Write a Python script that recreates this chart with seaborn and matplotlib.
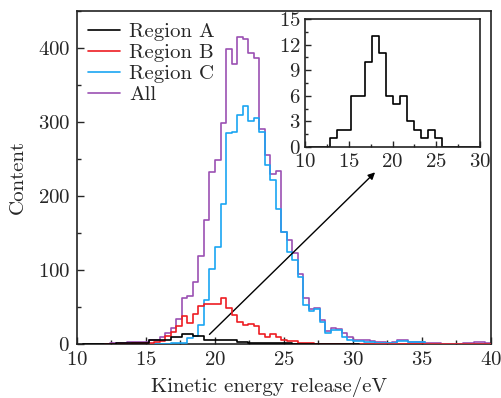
import numpy as np
import pandas as pd
import matplotlib.pyplot as plt
import seaborn as sns
from matplotlib.ticker import MultipleLocator

# main histograms: 0.4 eV bins, first bin starts at 12.0 eV
bin_start = 12.0
bin_width = 0.4
all_counts = [0, 2, 2, 2, 3, 3, 3, 3, 5, 5,
              9, 15, 22, 34, 62, 65, 84, 119, 167, 233,
              249, 299, 399, 379, 415, 412, 393, 386, 291, 255,
              230, 234, 152, 141, 123, 95, 62, 47, 48, 32,
              17, 21, 20, 15, 9, 6, 5, 5, 4, 3,
              3, 2, 3, 6, 6, 3, 3, 3, 2, 2,
              1, 0, 0, 0, 0, 1, 2, 3, 3, 2]
region_c = [0, 0, 0, 0, 0, 0, 0, 0, 0, 0,
            0, 0, 1, 1, 2, 8, 11, 26, 60, 101,
            131, 189, 285, 287, 310, 321, 301, 306, 287, 242,
            221, 183, 152, 125, 113, 91, 53, 44, 47, 30,
            15, 19, 19, 10, 6, 4, 4, 3, 3, 2,
            2, 2, 1, 4, 4, 3, 3, 3, 0, 0,
            0, 0, 0, 0, 0, 0, 0, 0, 0, 0]
region_b = [0, 0, 0, 0, 0, 1, 1, 1, 2, 3,
            4, 11, 16, 25, 38, 28, 41, 52, 54, 54,
            54, 62, 48, 39, 30, 26, 27, 24, 14, 10,
            14, 9, 5, 4, 4, 2, 1, 1, 0, 0,
            0, 0, 0, 0, 0, 0, 0, 0, 0, 0,
            0, 0, 0, 0, 0, 0, 0, 0, 0, 0,
            0, 0, 0, 0, 0, 0, 0, 0, 0, 0]

# region A (also shown in the inset): 0.8 eV bins starting at 10.4 eV
a_start = 10.4
a_width = 0.8
region_a = [0, 0, 0, 1, 2, 2, 6, 6, 10, 13, 11, 6, 5, 6, 3, 2, 1, 2, 1,
            0, 0, 0, 0, 0, 0]

labels = ["Region A", "Region B", "Region C", "All"]
colors = ["black", "#ee1d23", "#1aa5f2", "#9b50b3"]

sns.set_style("ticks")
plt.rcParams["font.family"] = ["cmr10", "DejaVu Serif"]
plt.rcParams["mathtext.fontset"] = "cm"
plt.rcParams["axes.formatter.use_mathtext"] = True
plt.rcParams["font.size"] = 15


def make_df(counts, start, width):
    edges = start + width * np.arange(len(counts) + 1)
    centers = edges[:-1] + width / 2
    return pd.DataFrame({"energy": centers, "count": counts}), [float(e) for e in edges]


fig = plt.figure(figsize=(5.02, 3.98), dpi=100)
ax = fig.add_axes([77 / 502, 1 - 344 / 398, 414 / 502, 333 / 398])

series = [(region_a, a_start, a_width), (region_b, bin_start, bin_width),
          (region_c, bin_start, bin_width), (all_counts, bin_start, bin_width)]
zorders = [5, 4, 3, 2]
for (counts, start, width), lab, col, z in zip(series, labels, colors, zorders):
    df, edges = make_df(counts, start, width)
    sns.histplot(data=df, x="energy", weights="count", bins=edges,
                 element="step", fill=False, color=col, linewidth=1.2,
                 label=lab, ax=ax, zorder=z)

ax.set_xlim(10, 40)
ax.set_ylim(0, 450)
ax.xaxis.set_major_locator(MultipleLocator(5))
ax.xaxis.set_minor_locator(MultipleLocator(2.5))
ax.yaxis.set_major_locator(MultipleLocator(100))
ax.yaxis.set_minor_locator(MultipleLocator(50))
ax.tick_params(which="both", direction="in", width=1.0, labelsize=15, pad=5)
ax.tick_params(which="major", length=5)
ax.tick_params(which="minor", length=3)
ax.set_xlabel("Kinetic energy release/eV", fontsize=15, labelpad=6, x=0.464)
ax.set_ylabel("Content", fontsize=15, labelpad=8)
for s in ax.spines.values():
    s.set_linewidth(1.2)
    s.set_color("#222222")

ax.legend(loc="upper left", frameon=False, fontsize=15, handlelength=1.5,
          handletextpad=0.45, labelspacing=0.12, borderaxespad=0.15,
          bbox_to_anchor=(0.0, 1.0))

ax.annotate("", xy=(31.6, 232), xytext=(19.6, 13),
            arrowprops=dict(arrowstyle="-|>", color="black", lw=1.0,
                            mutation_scale=10, shrinkA=0, shrinkB=0))

# inset with region A alone
axin = fig.add_axes([305 / 502, 1 - 147 / 398, 175 / 502, 128 / 398])
df_a, edges_a = make_df(region_a, a_start, a_width)
sns.histplot(data=df_a, x="energy", weights="count", bins=edges_a,
             element="step", fill=False, color="black", linewidth=1.2, ax=axin)
axin.set_xlim(10, 30)
axin.set_ylim(0, 15)
axin.xaxis.set_major_locator(MultipleLocator(5))
axin.xaxis.set_minor_locator(MultipleLocator(2.5))
axin.yaxis.set_major_locator(MultipleLocator(3))
axin.yaxis.set_minor_locator(MultipleLocator(1.5))
axin.tick_params(which="both", direction="in", width=1.0, labelsize=15)
axin.tick_params(axis="x", pad=4.5)
axin.tick_params(axis="y", pad=3)
axin.tick_params(which="major", length=4)
axin.tick_params(which="minor", length=2)
axin.set_xlabel("")
axin.set_ylabel("")
for s in axin.spines.values():
    s.set_linewidth(1.2)
    s.set_color("#222222")

fig.savefig("out.png", dpi=100)
